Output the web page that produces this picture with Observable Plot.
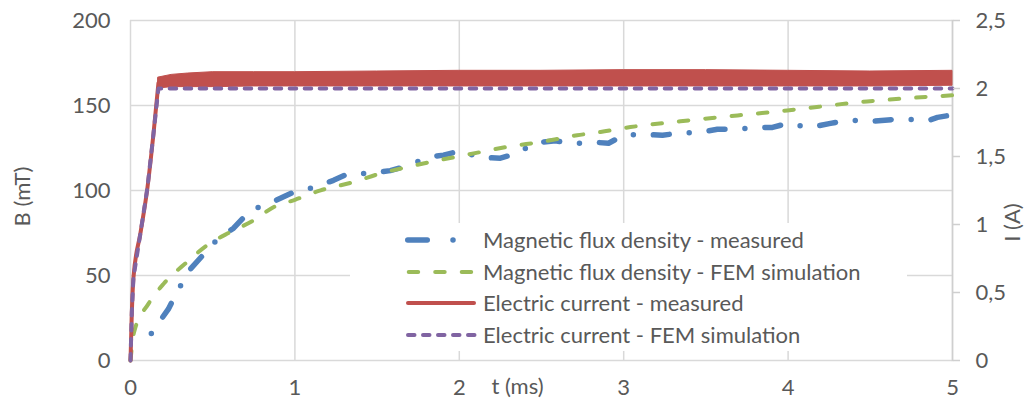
<!DOCTYPE html>
<html><head><meta charset="utf-8">
<script src="https://cdn.jsdelivr.net/npm/d3@7"></script>
<script src="https://cdn.jsdelivr.net/npm/@observablehq/plot@0.6"></script>
<style>
html,body{margin:0;padding:0;background:#fff;}
#chart{position:relative;width:1025px;height:408px;font-family:Lato,"Open Sans",sans-serif;color:#595959;overflow:hidden;}
#chart svg.plot{position:absolute;left:0;top:0;}
#legend{position:absolute;left:350px;top:223px;width:557px;height:128px;background:#fff;}
.row{position:absolute;left:0;height:30px;width:557px;}
.row svg{position:absolute;left:50px;top:9px;}
.row span{position:absolute;left:133px;top:0;line-height:30px;font-size:22px;white-space:nowrap;color:#595959;}
</style></head>
<body>
<div id="chart"></div>
<script>
// ---- data ----
// Magnetic flux density - measured (t in ms, B in mT)
const tBMeas = [0.1,0.14,0.23,0.286,0.359,0.456,0.529,0.627,0.73,0.833,0.99,1.113,1.235,1.326,1.454,1.58,1.69,1.807,1.904,2.0,2.123,2.25,2.354,2.457,2.585,2.689,2.816,2.908,2.999,3.12,3.236,3.333,3.46,3.57,3.68,3.814,3.905,3.996,4.13,4.258,4.361,4.507,4.641,4.757,4.854,4.909,5.0];
const bMeas  = [12,17.9,30.2,40.8,53.2,63.7,71.4,77.8,88.4,91.9,98.9,101.8,106,110,110,111.7,114.6,119.6,120.8,123.2,119.6,119,122,128,129.2,127.5,128.4,127.8,132.5,133,132.5,133.7,134.2,136,136,137.1,137.1,139.5,137.1,139.5,141.3,140.7,141.8,141.8,141.2,143,144.5];
// Magnetic flux density - FEM simulation
const tBFem = [0,0.02,0.111,0.203,0.345,0.466,0.608,0.75,0.872,1.0,1.156,1.358,1.52,1.683,1.825,2.007,2.129,2.311,2.494,2.717,2.859,3.041,3.345,3.994,4.481,5.0];
const bFem  = [0,16,33.6,45.3,58,67.8,75.6,82.5,90.3,94.5,100.1,105,110,113.8,116.8,120.3,122.6,126,128.5,132.5,134.4,137.3,140.7,147.1,152.4,156];
// Electric current - measured: rise, then noisy band (min / max envelope), I in A
const tIRise = [0,0.008,0.018,0.061,0.103,0.14,0.17];
const iRise  = [0,0.35,0.61,0.94,1.27,1.67,2.04];
const tIBand = [0.17,0.25,0.35,0.5,0.75,1.0,1.5,2.0,2.5,3.0,3.5,4.0,4.5,5.0];
const iBandLo = [2.0,2.01,2.01,2.01,2.015,2.015,2.015,2.015,2.015,2.015,2.015,2.015,2.015,2.02];
const iBandHi = [2.08,2.1,2.11,2.12,2.12,2.12,2.125,2.13,2.13,2.135,2.135,2.13,2.125,2.13];
// Electric current - FEM simulation
const tIFem = [0,0.008,0.018,0.061,0.103,0.14,0.17,5.0];
const iFem  = [0,0.35,0.61,0.94,1.27,1.67,2.0,2.0];
// axes
const xTicks = [0,1,2,3,4,5];
const bTicks = [0,50,100,150,200];
const iTicks = [0,0.5,1,1.5,2,2.5];
const iTickLabels = ["0","0,5","1","1,5","2","2,5"];
const seriesNames = ["Magnetic flux density - measured","Magnetic flux density - FEM simulation","Electric current - measured","Electric current - FEM simulation"];
const colors = ["#4F81BD","#9BBB59","#C0504D","#8064A2"];

const ratio = 200 / 2.5; // mT per A (left/right axis alignment)
const zip = (ts, vs) => ts.map((t, i) => ({t, v: vs[i]}));
const bMeasRows = zip(tBMeas, bMeas);
const bFemRows = zip(tBFem, bFem);
const riseRows = zip(tIRise, iRise);
const bandRows = tIBand.map((t, i) => ({t, lo: iBandLo[i], hi: iBandHi[i]}));
const iFemRows = zip(tIFem, iFem);

const grid = {stroke: "#D9D9D9", strokeOpacity: 1, strokeWidth: 1.5};
const txt = {fill: "#595959", fontSize: 22, textAnchor: "middle", lineAnchor: "middle"};
const plot = Plot.plot({
  width: 1025, height: 408,
  marginLeft: 130, marginRight: 73, marginTop: 20, marginBottom: 48,
  x: {domain: [0, 5]},
  y: {domain: [0, 200]},
  style: {fontFamily: "Lato, 'Open Sans', sans-serif", fontSize: "22px", color: "#595959", background: "transparent", overflow: "visible"},
  marks: [
    Plot.gridX(xTicks, grid),
    Plot.gridY(bTicks, grid),
    Plot.frame({anchor: "right", stroke: "#CFCFCF", strokeWidth: 1.5}),
    Plot.line(bMeasRows, {x: "t", y: "v", stroke: colors[0], strokeWidth: 5.5, strokeLinecap: "round", strokeLinejoin: "round", strokeDasharray: "16,20,0,20", strokeDashoffset: 28}),
    Plot.line(bFemRows, {x: "t", y: "v", stroke: colors[1], strokeWidth: 4, strokeLinecap: "round", strokeDasharray: "9.5,17", curve: "monotone-x"}),
    Plot.areaY(bandRows, {x: "t", y1: d => d.lo * ratio, y2: d => d.hi * ratio, fill: colors[2], stroke: colors[2], strokeWidth: 1}),
    Plot.line(riseRows, {x: "t", y: d => d.v * ratio, stroke: colors[2], strokeWidth: 4, curve: "monotone-x"}),
    Plot.line(iFemRows, {x: "t", y: d => d.v * ratio, stroke: colors[3], strokeWidth: 4, strokeLinecap: "round", strokeDasharray: "6.5,8.5"}),
    Plot.axisX(xTicks, {tickSize: 0, tickPadding: 19, label: null, fontSize: 22, tickFormat: d => String(d)}),
    Plot.axisY(bTicks, {tickSize: 0, tickPadding: 20, label: null, fontSize: 22, tickFormat: d => String(d)}),
    Plot.axisY(iTicks.map(i => i * ratio), {anchor: "right", tickSize: 7, tickPadding: 16, stroke: "#CFCFCF", strokeWidth: 1.5, label: null, fontSize: 22,
      tickFormat: d => iTickLabels[iTicks.indexOf(d / ratio)]}),
    Plot.text(["B (mT)"], {...txt, frameAnchor: "left", text: d => d, rotate: -90, dx: -108, dy: 6}),
    Plot.text(["I (A)"], {...txt, frameAnchor: "right", text: d => d, rotate: -90, dx: 60, dy: 32}),
    Plot.text(["t (ms)"], {...txt, frameAnchor: "bottom", text: d => d, dx: -24, dy: 26})
  ]
});
plot.classList.add("plot");
const chart = document.getElementById("chart");
chart.appendChild(plot);

// legend (white box inside the plot area)
const legend = document.createElement("div");
legend.id = "legend";
const rowTops = [2, 33.7, 65.3, 97];
const samples = [
  `<line x1="7.75" y1="6" x2="27.25" y2="6" stroke="${colors[0]}" stroke-width="5.5" stroke-linecap="round"/><circle cx="53" cy="6" r="2.75" fill="${colors[0]}"/>`,
  `<line x1="8.7" y1="6" x2="73.5" y2="6" stroke="${colors[1]}" stroke-width="4" stroke-linecap="round" stroke-dasharray="9.5,17"/>`,
  `<line x1="8" y1="6" x2="74" y2="6" stroke="${colors[2]}" stroke-width="4" stroke-linecap="round"/>`,
  `<line x1="8" y1="6" x2="75" y2="6" stroke="${colors[3]}" stroke-width="4" stroke-linecap="round" stroke-dasharray="6.5,8.5"/>`
];
seriesNames.forEach((name, i) => {
  const row = document.createElement("div");
  row.className = "row";
  row.style.top = rowTops[i] + "px";
  row.innerHTML = `<svg width="82" height="12">${samples[i]}</svg><span>${name}</span>`;
  legend.appendChild(row);
});
chart.appendChild(legend);
</script>
</body></html>
